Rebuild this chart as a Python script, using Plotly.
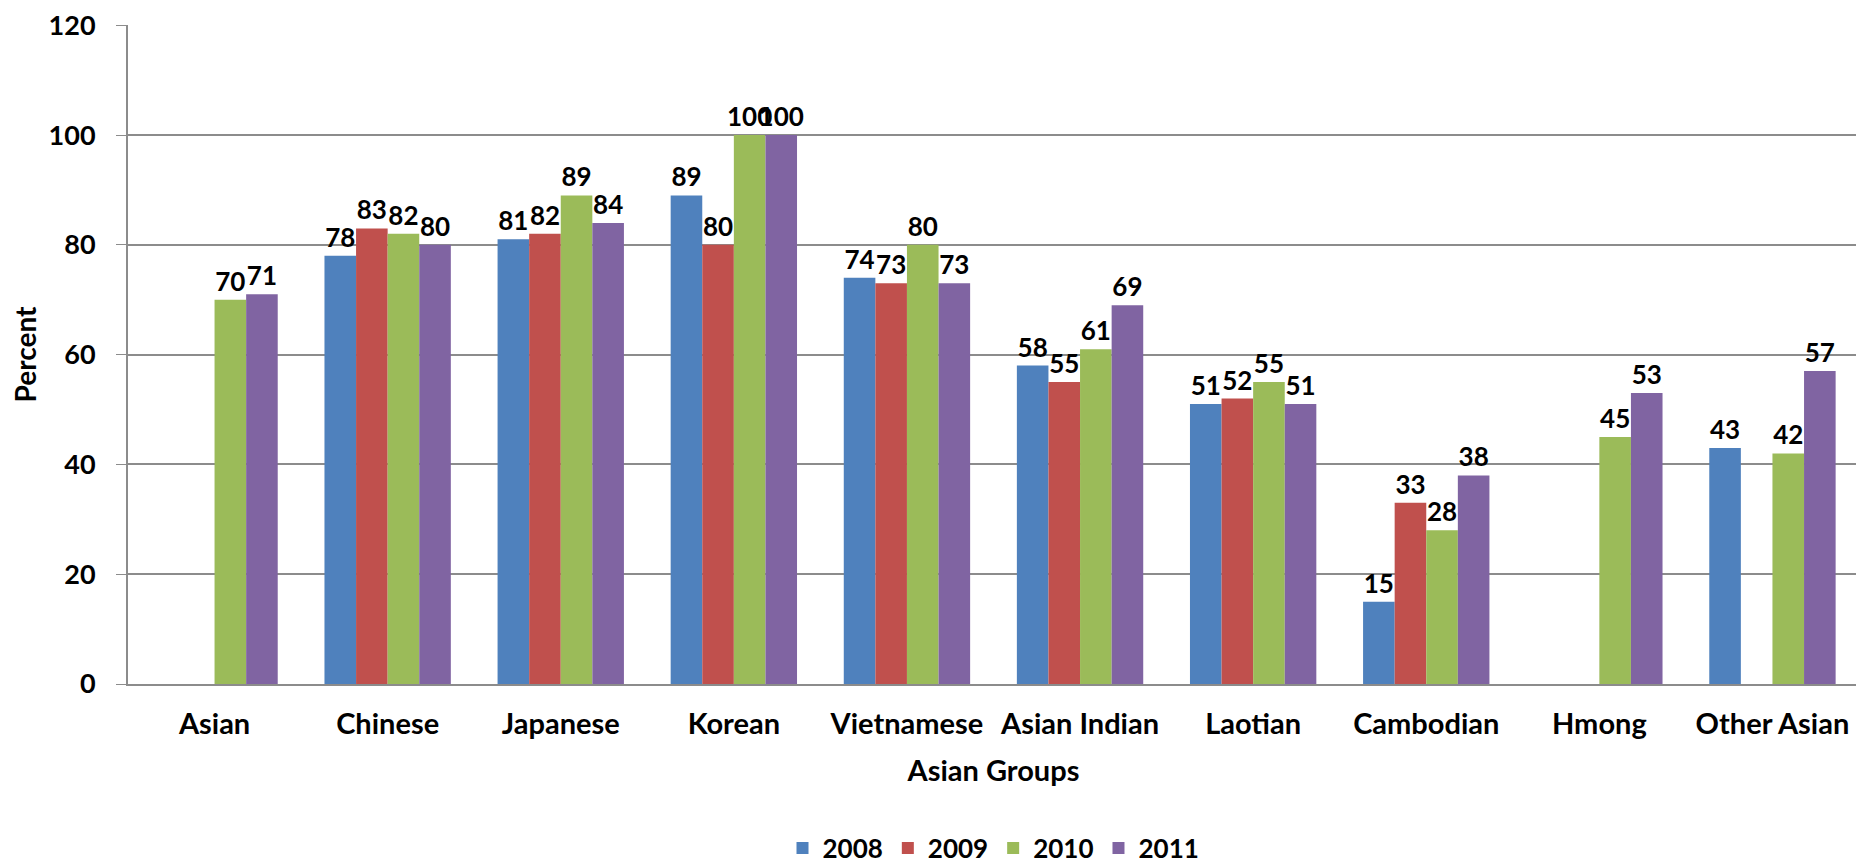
import plotly.graph_objects as go

groups = ["Asian", "Chinese", "Japanese", "Korean", "Vietnamese",
          "Asian Indian", "Laotian", "Cambodian", "Hmong", "Other Asian"]
v2008 = [None, 78, 81, 89, 74, 58, 51, 15, None, 43]
v2009 = [None, 83, 82, 80, 73, 55, 52, 33, None, None]
v2010 = [70, 82, 89, 100, 80, 61, 55, 28, 45, 42]
v2011 = [71, 80, 84, 100, 73, 69, 51, 38, 53, 57]

years = ["2008", "2009", "2010", "2011"]
colors = ["#4F81BD", "#C0504D", "#9BBB59", "#8064A2"]
font_family = "Lato"

fig = go.Figure()
for name, vals, col in zip(years, [v2008, v2009, v2010, v2011], colors):
    fig.add_trace(go.Bar(
        x=groups, y=vals, name=name, marker_color=col,
        marker_line_width=0,
        text=[("" if v is None else str(v)) for v in vals],
        textposition="outside", cliponaxis=False,
        textfont=dict(family=font_family, size=26, color="black", weight="bold"),
    ))

# page body adds an 8px offset, so margins are shifted to compensate
fig.update_layout(
    width=1864, height=863,
    barmode="group", bargap=0.27, bargroupgap=0,
    plot_bgcolor="white", paper_bgcolor="white",
    margin=dict(l=120, r=13, t=17, b=187, autoexpand=False),
    font=dict(family=font_family, color="black"),
    uniformtext=dict(minsize=26, mode="show"),
    legend=dict(orientation="h", x=0.5, xanchor="center", y=-0.249, yanchor="middle",
                font=dict(size=26, weight="bold"), traceorder="normal"),
    xaxis=dict(
        title=dict(text="Asian Groups", font=dict(size=29, weight="bold"), standoff=22),
        tickfont=dict(size=29, weight="bold"),
        showline=True, linecolor="#8C8C8C", linewidth=2,
        ticks="", ticklabelstandoff=13,
    ),
    yaxis=dict(
        title=dict(text="Percent", font=dict(size=28, weight="bold"), standoff=12),
        tickfont=dict(size=27, weight="bold"),
        range=[0, 120.05], tickvals=[0, 20, 40, 60, 80, 100, 120],
        showgrid=True, gridcolor="#8C8C8C", gridwidth=2,
        showline=True, linecolor="#8C8C8C", linewidth=2,
        ticks="outside", ticklen=10, tickcolor="#8C8C8C", ticklabelstandoff=15,
        ticklabeloverflow="allow",
        zeroline=False,
    ),
)

fig.write_html("out.html")
